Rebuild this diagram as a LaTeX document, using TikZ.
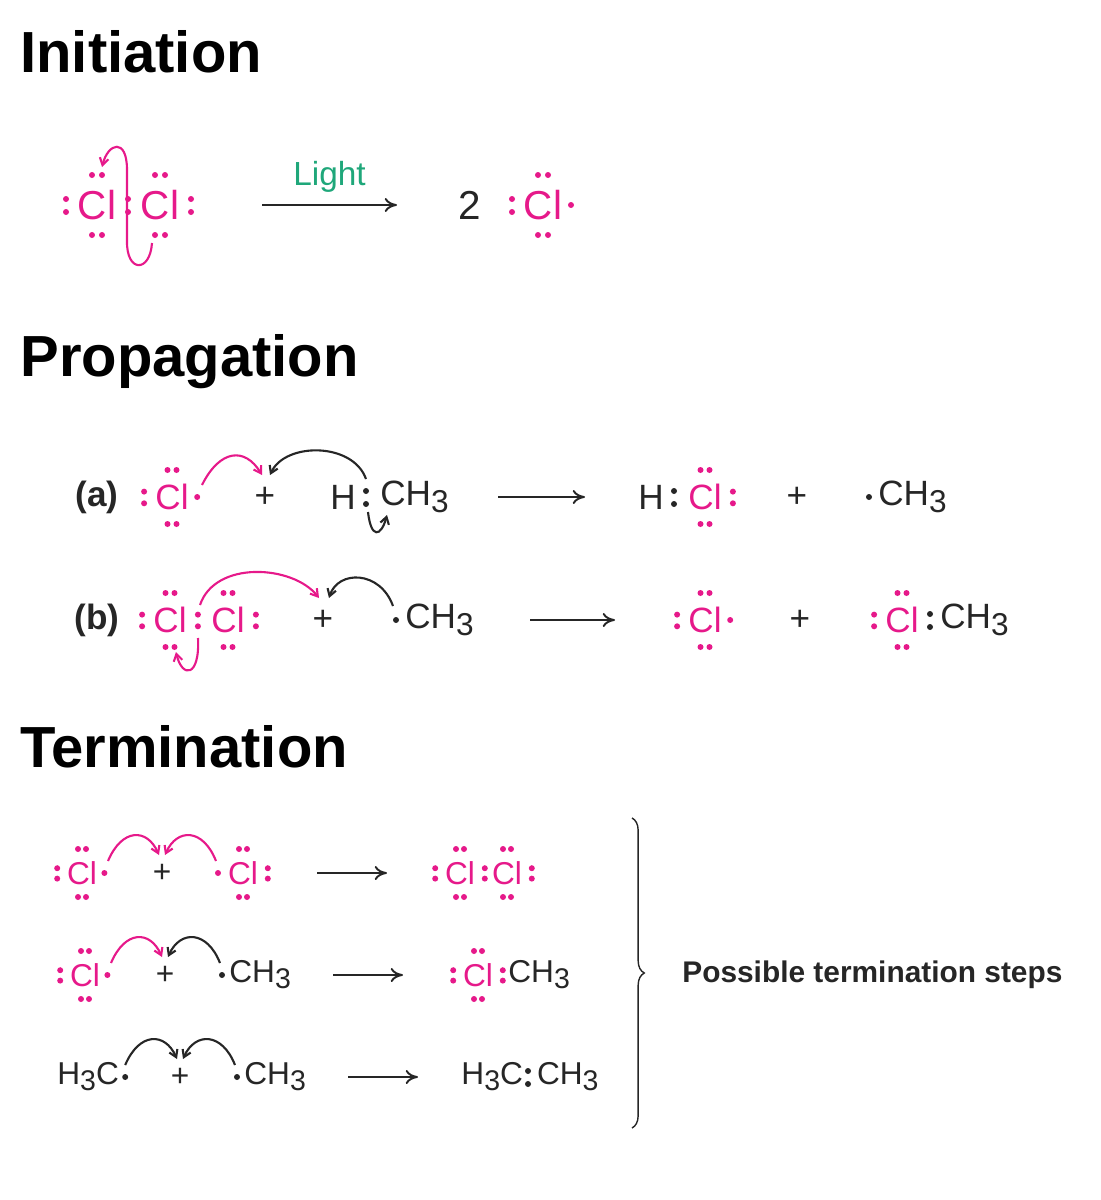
\documentclass[tikz,border=0pt]{standalone}
\usepackage{fontspec}
\setmainfont{Liberation Sans}
\usetikzlibrary{arrows.meta, calc, decorations.pathreplacing}
\definecolor{clmag}{HTML}{E6198A}
\definecolor{lightgreen}{HTML}{1FA77A}
\definecolor{ink}{HTML}{262626}
\newcommand\sub[1]{\raisebox{-0.35ex}{\scalebox{.9}{#1}}}
\def\ds{1}
\newcommand\edots[3][clmag]{\foreach \p in {#3}{\fill[#1] ($(#2)+(\p)$) circle (.6mm);}}
\newcommand\dT[2][clmag]{\edots[#1]{#2}{{-5*\ds,-30*\ds},{5*\ds,-30*\ds}}}
\newcommand\dB[2][clmag]{\edots[#1]{#2}{{-5*\ds,30*\ds},{5*\ds,30*\ds}}}
\newcommand\dL[2][clmag]{\edots[#1]{#2}{{-31*\ds,-6*\ds},{-31*\ds,7*\ds}}}
\newcommand\dR[2][clmag]{\edots[#1]{#2}{{31*\ds,-6*\ds},{31*\ds,7*\ds}}}
\newcommand\dr[2][clmag]{\edots[#1]{#2}{{28*\ds,0}}}

\begin{document}
\begin{tikzpicture}[x=0.02cm, y=-0.02cm,
    head/.style={font=\fontsize{33}{36}\selectfont\bfseries, anchor=west, inner sep=0},
    atom/.style={text=clmag, inner sep=0},
    txt/.style={text=ink, inner sep=0},
    big/.style={font=\fontsize{23}{26}\selectfont},
    mid/.style={font=\fontsize{20}{23}\selectfont},
    small/.style={font=\fontsize{18}{21}\selectfont},
    rxn/.style={-{To[length=7pt,width=8pt]}, line width=1.1pt, ink},
    push/.style={-{Straight Barb[length=4pt,width=5pt]}, line width=1.2pt},
    pushm/.style={push, clmag},
    pushk/.style={push, ink}
  ]
  \useasboundingbox (0,0) rectangle (1101,1200);

  % Initiation
  \node[head] (hi) at (20,52) {Initiation};
  \node[atom, big] (i1) at (97,205) {Cl};
  \node[atom, big] (i2) at (160,205) {Cl};
  \dT{i1}\dB{i1}\dL{i1}\dR{i1}
  \dT{i2}\dB{i2}\dR{i2}
  \node[txt, big] (i3) at (470,205) {2};
  \node[atom, big] (i4) at (543,205) {Cl};
  \dT{i4}\dB{i4}\dL{i4}\dr{i4}
  \coordinate (ia) at (262,205);
  \coordinate (ib) at (397,205);
  \draw[rxn] (ia) -- (ib) node[midway, above=3pt, text=lightgreen, font=\fontsize{19}{22}\selectfont] {Light};
  \draw[pushm] ($(i2)+(-8,38)$) .. controls ($(i2)+(-10,68)$) and ($(i2)+(-34,68)$) .. ($(i2)+(-33,35)$)
     -- ($(i2)+(-33,-35)$) .. controls ($(i2)+(-33,-68)$) and ($(i2)+(-52,-62)$) .. ($(i2)+(-58,-38)$);

  % Propagation
  \node[head] (hp) at (20,362) {Propagation};
  \def\ds{0.9}
  \node[txt, mid, font=\fontsize{20}{23}\selectfont\bfseries] (la) at (97,497) {(a)};
  \node[atom, mid] (a1) at (172,497) {Cl};
  \dT{a1}\dB{a1}\dL{a1}\dr{a1}
  \node[txt, mid] (ap) at (265,497) {+};
  \node[txt, mid] (ah) at (343,497) {H};
  \node[txt, mid, anchor=west] (ac) at (380,497) {CH\sub{3}};
  \edots[ink]{ah}{{23,-6},{23,7}}
  \coordinate (aa) at (498,497);
  \coordinate (ab) at (585,497);
  \draw[rxn] (aa) -- (ab);
  \node[txt, mid] (ah2) at (651,497) {H};
  \node[atom, mid] (a2) at (705,497) {Cl};
  \dT{a2}\dB{a2}\dR{a2}
  \edots[ink]{ah2}{{23,-6},{23,7}}
  \node[txt, mid] (ap2) at (797,497) {+};
  \node[txt, mid, anchor=west] (am) at (878,497) {CH\sub{3}};
  \edots[ink]{am.west}{{-9,0}}
  \draw[pushm] ($(a1)+(30,-12)$) .. controls ($(a1)+(48,-48)$) and ($(ap)+(-20,-50)$) .. ($(ap)+(-3,-22)$);
  \draw[pushk] ($(ah)+(23,-18)$) .. controls ($(ah)+(10,-55)$) and ($(ap)+(20,-55)$) .. ($(ap)+(5,-22)$);
  \draw[pushk] ($(ah)+(25,15)$) .. controls ($(ah)+(28,42)$) and ($(ah)+(38,40)$) .. ($(ah)+(44,18)$);

  \node[txt, mid, font=\fontsize{20}{23}\selectfont\bfseries] (lb) at (97,620) {(b)};
  \node[atom, mid] (b1) at (170,620) {Cl};
  \node[atom, mid] (b2) at (228,620) {Cl};
  \dT{b1}\dB{b1}\dL{b1}\dR{b1}
  \dT{b2}\dB{b2}\dR{b2}
  \node[txt, mid] (bp) at (323,620) {+};
  \node[txt, mid, anchor=west] (bm) at (405,620) {CH\sub{3}};
  \edots[ink]{bm.west}{{-9,0}}
  \coordinate (ba) at (530,620);
  \coordinate (bb) at (615,620);
  \draw[rxn] (ba) -- (bb);
  \node[atom, mid] (b3) at (705,620) {Cl};
  \dT{b3}\dB{b3}\dL{b3}\dr{b3}
  \node[txt, mid] (bp2) at (800,620) {+};
  \node[atom, mid] (b4) at (902,620) {Cl};
  \dT{b4}\dB{b4}\dL{b4}
  \edots[ink]{b4}{{28,-6},{28,7}}
  \node[txt, mid, anchor=west] (bm2) at (940,620) {CH\sub{3}};
  \draw[pushm] ($(b1)+(30,-15)$) .. controls ($(b1)+(45,-60)$) and ($(bp)+(-30,-55)$) .. ($(bp)+(-4,-22)$);
  \draw[pushk] ($(bm.west)+(-12,-14)$) .. controls ($(bm.west)+(-25,-50)$) and ($(bp)+(15,-50)$) .. ($(bp)+(6,-22)$);
  \draw[pushm] ($(b1)+(28,18)$) .. controls ($(b1)+(30,58)$) and ($(b1)+(12,58)$) .. ($(b1)+(6,32)$);

  % Termination
  \node[head] (ht) at (20,747) {Termination};
  \def\ds{0.8}
  \node[atom, small] (t1) at (82,873) {Cl};
  \dT{t1}\dB{t1}\dL{t1}\dr{t1}
  \node[txt, small] (tp1) at (162,873) {+};
  \node[atom, small] (t2) at (243,873) {Cl};
  \dT{t2}\dB{t2}\dR{t2}
  \edots{t2}{{-25,0}}
  \coordinate (t1a) at (317,873);
  \coordinate (t1b) at (387,873);
  \draw[rxn] (t1a) -- (t1b);
  \node[atom, small] (t3) at (460,873) {Cl};
  \node[atom, small] (t4) at (507,873) {Cl};
  \dT{t3}\dB{t3}\dL{t3}\dR{t3}
  \dT{t4}\dB{t4}\dR{t4}
  \draw[pushm] ($(t1)+(26,-12)$) .. controls ($(t1)+(40,-45)$) and ($(tp1)+(-15,-45)$) .. ($(tp1)+(-3,-18)$);
  \draw[pushm] ($(t2)+(-27,-12)$) .. controls ($(t2)+(-40,-45)$) and ($(tp1)+(15,-45)$) .. ($(tp1)+(3,-18)$);

  \node[atom, small] (t5) at (85,975) {Cl};
  \dT{t5}\dB{t5}\dL{t5}\dr{t5}
  \node[txt, small] (tp2) at (165,975) {+};
  \node[txt, small, anchor=west] (tm1) at (229,975) {CH\sub{3}};
  \edots[ink]{tm1.west}{{-7,0}}
  \coordinate (t2a) at (333,975);
  \coordinate (t2b) at (403,975);
  \draw[rxn] (t2a) -- (t2b);
  \node[atom, small] (t6) at (478,975) {Cl};
  \dT{t6}\dB{t6}\dL{t6}\dR{t6}
  \node[txt, small, anchor=west] (tm2) at (508,975) {CH\sub{3}};
  \draw[pushm] ($(t5)+(26,-12)$) .. controls ($(t5)+(40,-45)$) and ($(tp2)+(-15,-45)$) .. ($(tp2)+(-3,-18)$);
  \draw[pushk] ($(tm1.west)+(-9,-12)$) .. controls ($(tm1.west)+(-22,-45)$) and ($(tp2)+(15,-45)$) .. ($(tp2)+(3,-18)$);

  \node[txt, small, anchor=west] (tm3) at (57,1077) {H\sub{3}C};
  \edots[ink]{tm3.east}{{6,0}}
  \node[txt, small] (tp3) at (180,1077) {+};
  \node[txt, small, anchor=west] (tm4) at (244,1077) {CH\sub{3}};
  \edots[ink]{tm4.west}{{-7,0}}
  \coordinate (t3a) at (348,1077);
  \coordinate (t3b) at (418,1077);
  \draw[rxn] (t3a) -- (t3b);
  \node[txt, small] (tm5) at (530,1077) {H\sub{3}C\hspace{8pt}CH\sub{3}};
  \edots[ink]{tm5}{{-2,-6},{-2,7}}
  \draw[pushk] ($(tm3.east)+(6,-12)$) .. controls ($(tm3.east)+(20,-45)$) and ($(tp3)+(-15,-45)$) .. ($(tp3)+(-3,-18)$);
  \draw[pushk] ($(tm4.west)+(-9,-12)$) .. controls ($(tm4.west)+(-22,-45)$) and ($(tp3)+(15,-45)$) .. ($(tp3)+(3,-18)$);

  \coordinate (bra) at (632,818);
  \coordinate (brb) at (632,1128);
  \draw[ink, line width=0.8pt, decorate, decoration={brace, amplitude=7pt}] (bra) -- (brb);
  \node[txt, font=\fontsize{17}{20}\selectfont\bfseries, anchor=west] (poss) at (682,975) {Possible termination steps};
\end{tikzpicture}
\end{document}
